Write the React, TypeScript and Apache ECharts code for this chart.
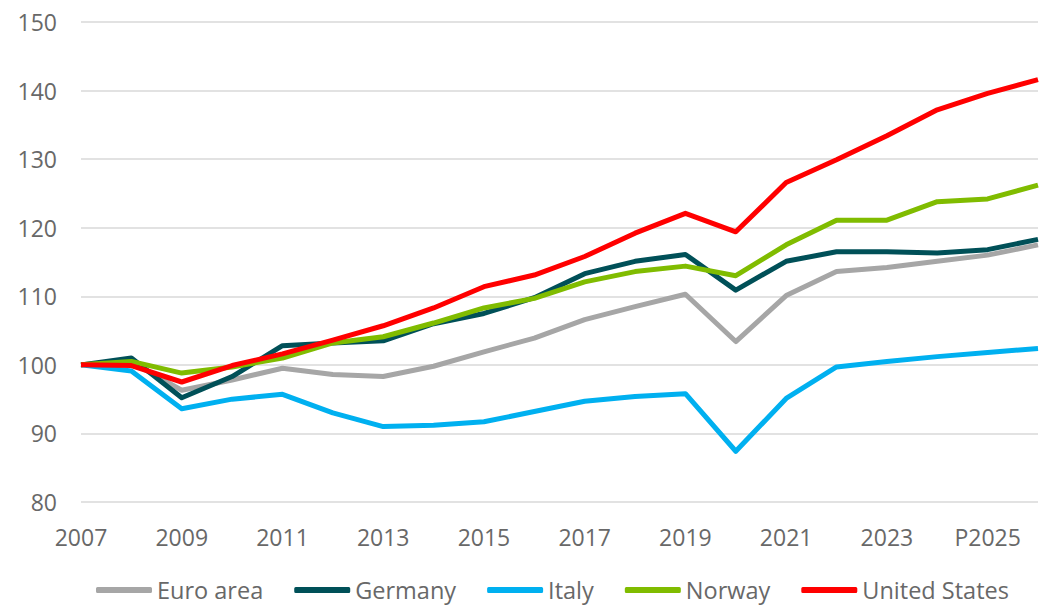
import React, { useEffect, useRef } from "react";
import * as echarts from "echarts";

const years = [
  "2007", "2008", "2009", "2010", "2011", "2012", "2013", "2014", "2015", "2016",
  "2017", "2018", "2019", "2020", "2021", "2022", "2023", "2024", "P2025", "P2026",
];

const euroArea = [100, 100.4, 96.3, 97.8, 99.5, 98.6, 98.3, 99.8, 101.9, 103.9, 106.6, 108.5, 110.3, 103.4, 110.1, 113.6, 114.2, 115.1, 116.0, 117.5];
const germany = [100, 101.0, 95.2, 98.3, 102.8, 103.2, 103.5, 106.0, 107.5, 109.8, 113.3, 115.1, 116.1, 110.9, 115.1, 116.5, 116.5, 116.3, 116.8, 118.3];
const italy = [100, 99.1, 93.6, 95.0, 95.7, 93.0, 91.0, 91.2, 91.7, 93.2, 94.7, 95.4, 95.8, 87.4, 95.1, 99.7, 100.5, 101.2, 101.8, 102.4];
const norway = [100, 100.5, 98.8, 99.7, 101.0, 103.2, 104.1, 106.1, 108.3, 109.7, 112.1, 113.6, 114.4, 113.0, 117.5, 121.1, 121.1, 123.8, 124.2, 126.2];
const unitedStates = [100, 99.9, 97.5, 99.9, 101.6, 103.6, 105.7, 108.3, 111.4, 113.1, 115.8, 119.2, 122.1, 119.4, 126.6, 129.9, 133.4, 137.2, 139.6, 141.6];

const seriesDefs = [
  { name: "Euro area", data: euroArea, color: "#a6a6a6" },
  { name: "Germany", data: germany, color: "#005058" },
  { name: "Italy", data: italy, color: "#00b0f0" },
  { name: "Norway", data: norway, color: "#80bc00" },
  { name: "United States", data: unitedStates, color: "#ff0000" },
];

const FONT = "'Open Sans', 'Noto Sans', sans-serif";
const TEXT_COLOR = "#686868";

export default function App() {
  const ref = useRef<HTMLDivElement>(null);

  useEffect(() => {
    document.body.style.margin = "0";
    if (!ref.current) return;
    const chart = echarts.init(ref.current, undefined, { renderer: "svg" });
    chart.setOption({
      animation: false,
      backgroundColor: "#ffffff",
      grid: { left: 81, right: 1, top: 22, bottom: 107, containLabel: false },
      legend: {
        bottom: 2,
        left: 91,
        itemWidth: 56,
        itemHeight: 6,
        itemGap: 31,
        icon: "roundRect",
        textStyle: { color: TEXT_COLOR, fontSize: 23.5, fontFamily: FONT },
        data: seriesDefs.map((s) => s.name),
      },
      xAxis: {
        type: "category",
        data: years,
        boundaryGap: false,
        axisLine: { show: false },
        axisTick: { show: false },
        axisLabel: {
          interval: 1,
          color: TEXT_COLOR,
          fontSize: 23,
          fontFamily: FONT,
          margin: 23,
        },
        splitLine: { show: false },
      },
      yAxis: {
        type: "value",
        min: 80,
        max: 150,
        interval: 10,
        axisLine: { show: false },
        axisTick: { show: false },
        axisLabel: {
          color: TEXT_COLOR,
          fontSize: 23,
          fontFamily: FONT,
          margin: 24,
        },
        splitLine: { lineStyle: { color: "#d9d9d9", width: 1.5 } },
      },
      series: seriesDefs.map((s) => ({
        name: s.name,
        type: "line",
        data: s.data,
        symbol: "none",
        color: s.color,
        lineStyle: { width: 5, color: s.color, join: "round" },
      })),
    });
    return () => chart.dispose();
  }, []);

  return (
    <div
      ref={ref}
      style={{ position: "fixed", left: 0, top: 0, width: 1039, height: 609 }}
    />
  );
}
